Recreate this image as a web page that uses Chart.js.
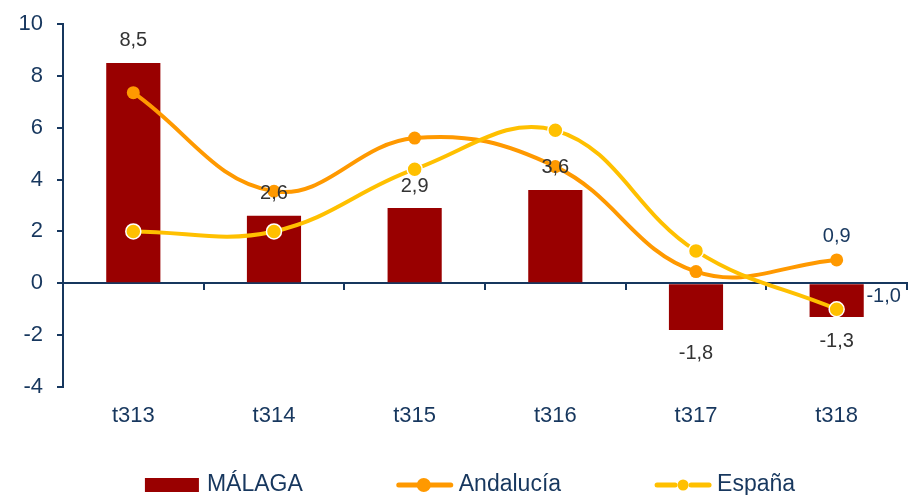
<!DOCTYPE html>
<html>
<head>
<meta charset="utf-8">
<script src="https://cdn.jsdelivr.net/npm/chart.js@4/dist/chart.umd.min.js"></script>
<style>
  body { margin: 0; background: #fff; }
  #wrap { width: 908px; height: 495px; position: relative; }
</style>
</head>
<body>
<div id="wrap"><canvas id="chart"></canvas></div>
<script>
// Data
const categories = ['t313', 't314', 't315', 't316', 't317', 't318'];
const malaga = [8.5, 2.6, 2.9, 3.6, -1.8, -1.3];
const andalucia = [7.35, 3.55, 5.6, 4.5, 0.45, 0.9];
const espana = [2.0, 2.0, 4.4, 5.9, 1.25, -1.0];
const seriesNames = ['MÁLAGA', 'Andalucía', 'España'];

const NAVY = '#17375e';
const RED = '#990000';
const ORANGE = '#ff9900';
const YELLOW = '#ffc000';
const FONT = "'Liberation Sans', Arial, sans-serif";

Chart.defaults.font.family = FONT;
Chart.defaults.color = NAVY;

const fmt = v => v.toFixed(1).replace('.', ',');

// Legend marker for series i, left edge at x, centred on y
function drawIcon(ctx, i, x, y) {
  ctx.save();
  if (i === 0) {
    ctx.fillStyle = RED;
    ctx.fillRect(x, y - 7, 54, 14);
  } else if (i === 1) {
    ctx.strokeStyle = ORANGE; ctx.lineWidth = 5; ctx.lineCap = 'round';
    ctx.beginPath(); ctx.moveTo(x + 2, y); ctx.lineTo(x + 54, y); ctx.stroke();
    ctx.fillStyle = ORANGE;
    ctx.beginPath(); ctx.arc(x + 27, y, 7, 0, Math.PI * 2); ctx.fill();
  } else {
    ctx.strokeStyle = YELLOW; ctx.lineWidth = 5; ctx.lineCap = 'round';
    ctx.beginPath();
    ctx.moveTo(x + 2, y); ctx.lineTo(x + 20, y);
    ctx.moveTo(x + 36, y); ctx.lineTo(x + 54, y);
    ctx.stroke();
    ctx.fillStyle = YELLOW;
    ctx.beginPath(); ctx.arc(x + 28, y, 5.5, 0, Math.PI * 2); ctx.fill();
  }
  ctx.restore();
}

// Legend row under the x labels
const bottomLegend = {
  id: 'bottomLegend',
  afterDraw(chart) {
    const ctx = chart.ctx;
    ctx.save();
    ctx.font = '23px ' + FONT;
    ctx.textAlign = 'left';
    ctx.textBaseline = 'middle';
    const iconW = 56, gap = 6, spacing = 94;
    const widths = seriesNames.map(n => iconW + gap + ctx.measureText(n).width);
    const total = widths.reduce((s, w) => s + w, 0) + spacing * (widths.length - 1);
    let x = chart.width / 2 + 16 - total / 2;
    const y = 485;
    seriesNames.forEach((name, i) => {
      drawIcon(ctx, i, x, y);
      ctx.fillStyle = NAVY;
      ctx.fillText(name, x + iconW + gap, y);
      x += widths[i] + spacing;
    });
    ctx.restore();
  }
};

// Value labels drawn on top of the marks
const valueLabels = {
  id: 'valueLabels',
  afterDatasetsDraw(chart) {
    const ctx = chart.ctx;
    ctx.save();
    ctx.font = '20px ' + FONT;
    ctx.textAlign = 'center';
    ctx.textBaseline = 'middle';
    ctx.fillStyle = '#333333';
    chart.getDatasetMeta(0).data.forEach((el, i) => {
      const v = malaga[i];
      ctx.fillText(fmt(v), el.x, v >= 0 ? el.y - 22 : el.y + 24);
    });
    ctx.fillStyle = NAVY;
    const a = chart.getDatasetMeta(1).data[5];
    ctx.fillText(fmt(andalucia[5]), a.x, a.y - 23);
    const e = chart.getDatasetMeta(2).data[5];
    ctx.fillText(fmt(espana[5]), e.x + 47, e.y - 13);
    ctx.restore();
  }
};

new Chart(document.getElementById('chart'), {
  type: 'bar',
  data: {
    labels: categories,
    datasets: [
      {
        label: seriesNames[0],
        data: malaga,
        backgroundColor: RED,
        barPercentage: 0.385,
        categoryPercentage: 1,
        order: 3
      },
      {
        type: 'line',
        label: seriesNames[1],
        data: andalucia,
        borderColor: ORANGE,
        backgroundColor: ORANGE,
        borderWidth: 4,
        tension: 0.4,
        pointRadius: 6.5,
        pointBorderWidth: 0,
        order: 2
      },
      {
        type: 'line',
        label: seriesNames[2],
        data: espana,
        borderColor: YELLOW,
        backgroundColor: YELLOW,
        borderWidth: 4,
        tension: 0.4,
        pointRadius: 7.5,
        pointBorderColor: '#ffffff',
        pointBorderWidth: 1.5,
        order: 1
      }
    ]
  },
  options: {
    responsive: true,
    maintainAspectRatio: false,
    animation: false,
    layout: { autoPadding: false, padding: { left: 4.5, right: 1, top: 24, bottom: 49.6 } },
    plugins: {
      tooltip: { enabled: false },
      legend: { display: false }
    },
    scales: {
      x: {
        grid: { display: false, drawTicks: false },
        border: { display: false },
        ticks: { color: NAVY, font: { size: 22 }, padding: 16 }
      },
      x0: {
        type: 'category',
        labels: categories,
        position: { y: 0 },
        offset: true,
        grid: { offset: true, drawOnChartArea: false, drawTicks: true, tickLength: 6, color: NAVY, lineWidth: 2 },
        border: { color: NAVY, width: 2 },
        ticks: { display: false }
      },
      y: {
        min: -4,
        max: 10,
        ticks: { stepSize: 2, color: NAVY, font: { size: 22 }, padding: 14 },
        grid: { drawOnChartArea: false, tickLength: 6, color: NAVY, lineWidth: 2 },
        border: { color: NAVY, width: 2 },
        afterFit(scale) { scale.paddingTop = 0; scale.paddingBottom = 0; }
      }
    }
  },
  plugins: [valueLabels, bottomLegend]
});
</script>
</body>
</html>
